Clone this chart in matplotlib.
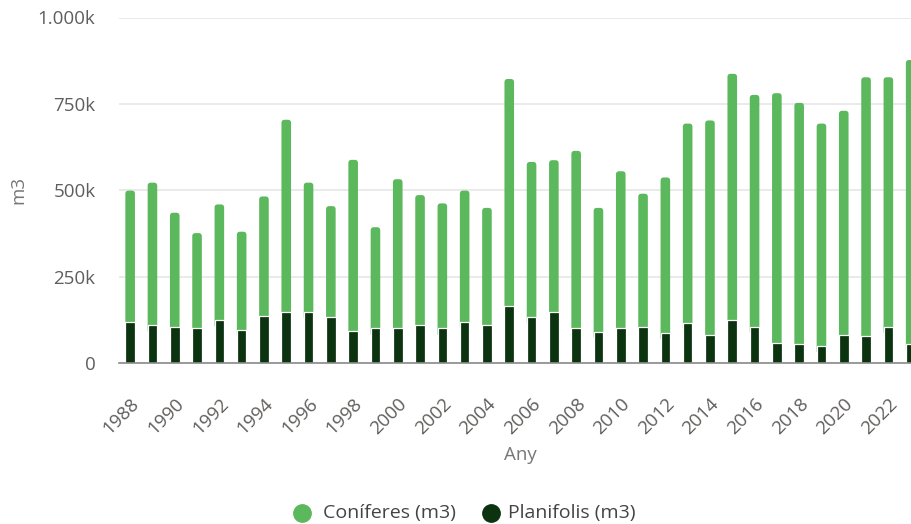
import matplotlib
matplotlib.use("Agg")
import matplotlib.pyplot as plt
from matplotlib.lines import Line2D
from matplotlib.patches import FancyBboxPatch
import matplotlib.transforms as mtransforms
import numpy as np

plt.rcParams['font.family'] = ['Open Sans', 'DejaVu Sans']

years = list(range(1988, 2024))
total = [499, 522, 435, 376, 459, 380, 482, 704, 522, 454, 588, 393, 532,
         486, 462, 499, 449, 822, 582, 587, 614, 449, 555, 490, 537,
         693, 702, 837, 776, 781, 753, 693, 730, 827, 827, 877]
planifolis = [119, 109, 105, 100, 124, 96, 137, 147, 147, 133, 92, 100, 100,
              109, 100, 119, 109, 165, 132, 147, 100, 91, 100, 105, 87,
              115, 82, 124, 105, 59, 54, 49, 82, 77, 105, 54]
planifolis = [v * 1000 for v in planifolis]
coniferes = [t * 1000 - p for t, p in zip(total, planifolis)]

light = '#5cb85c'
dark = '#0b3310'

W, H = 912, 524
fig = plt.figure(figsize=(W / 100, H / 100), dpi=100)
ax_left, ax_bottom_px, ax_top_px = 119, 363, 17.5
ax = fig.add_axes([ax_left / W, 1 - ax_bottom_px / H, 1 - ax_left / W, (ax_bottom_px - ax_top_px) / H])

xlim = (-0.5, 35.06)
ylim = (0, 1000000)
ax.set_xlim(*xlim)
ax.set_ylim(*ylim)

x = np.arange(len(years))
w = 0.43

# rounded-top light bars (drawn from slightly inside the dark segment)
px_x = (xlim[1] - xlim[0]) / (W - ax_left)
px_y = (ylim[1] - ylim[0]) / (ax_bottom_px - ax_top_px)
aspect = px_y / px_x
radius = 3.2 * px_x
for xi, b, h in zip(x, planifolis, coniferes):
    lo = b - 8 * px_y
    patch = FancyBboxPatch((xi - w / 2, lo), w, b + h - lo,
                           boxstyle=f"round,pad=0,rounding_size={radius}",
                           mutation_aspect=aspect, facecolor=light,
                           edgecolor='none', zorder=3)
    ax.add_patch(patch)
ax.bar(x, coniferes, width=w, bottom=planifolis, color='none', edgecolor='none', zorder=2)
ax.bar(x, planifolis, width=w, color=dark, edgecolor='white', linewidth=0.9, zorder=4)

ax.set_yticks([0, 250000, 500000, 750000, 1000000])
ax.set_yticklabels(['0', '250k', '500k', '750k', '1.000k'])
ax.yaxis.grid(True, color='#e6e6e6', linewidth=1.2, zorder=0)
ax.set_axisbelow(True)

even = [i for i, y in enumerate(years) if y % 2 == 0]
ax.set_xticks(even)
ax.set_xticklabels([str(years[i]) for i in even], rotation=45, ha='right',
                   rotation_mode='anchor')
offset = mtransforms.ScaledTranslation(-4 / 100, 0, fig.dpi_scale_trans)
for lab in ax.get_xticklabels():
    lab.set_transform(lab.get_transform() + offset)

for s in ['top', 'right', 'left']:
    ax.spines[s].set_visible(False)
ax.spines['bottom'].set_color('#8a8a8a')
ax.spines['bottom'].set_linewidth(1.2)
ax.spines['bottom'].set_zorder(5)
ax.tick_params(axis='both', length=0, colors='#605e5c')
ax.tick_params(axis='y', pad=17, labelsize=13.5)
ax.tick_params(axis='x', pad=23, labelsize=13.5)

fig.text(520 / W, 1 - 455 / H, 'Any', ha='center', va='center', fontsize=13.5, color='#777777')
fig.text(18 / W, 1 - 190 / H, 'm3', ha='center', va='center', rotation=90, fontsize=13.5, color='#777777')

# legend
leg_y = 1 - 513 / H
for cx, col, tx, label in [(302, light, 323, 'Coníferes (m3)'), (491, dark, 508, 'Planifolis (m3)')]:
    fig.add_artist(Line2D([cx / W], [leg_y], transform=fig.transFigure, marker='o',
                          linestyle='', markersize=12.5, color=col))
    fig.text(tx / W, leg_y, label, ha='left', va='center', fontsize=14, color='#444444')

fig.savefig('out.png', dpi=100)
